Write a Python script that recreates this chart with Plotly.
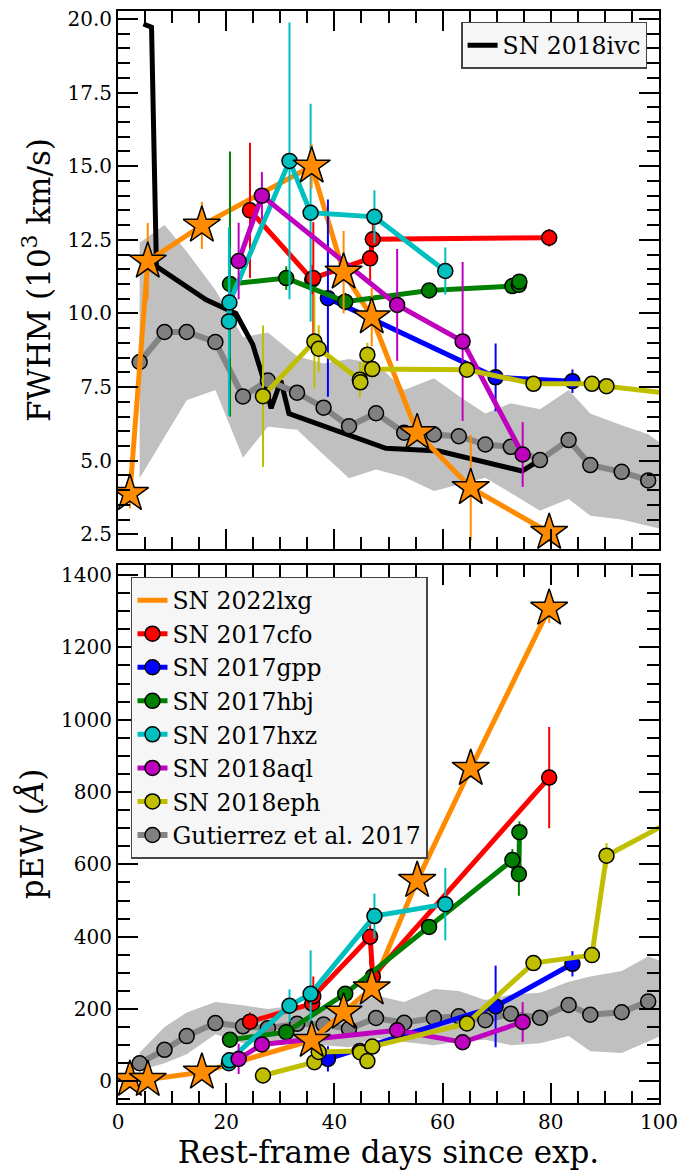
import plotly.graph_objects as go

# ---------------- data ----------------
lxg_t = [2.2, 5.5, 15.5, 35.8, 41.7, 46.9, 55.3, 65.2, 79.7]
lxg_fwhm = [3.88, 11.77, 12.99, 15.0, 11.4, 9.88, 5.95, 4.08, 2.56]
lxg_fwhm_err = [0.5, 1.3, 0.8, 0.75, 1.4, 1.0, 0.3, 1.8, 0.3]
lxg_pew = [5, 5, 25, 113, 191, 258, 555, 865, 1308]
lxg_pew_err = [5, 5, 8, 10, 10, 12, 15, 15, 40]

cfo_t = [24.4, 35.9, 36.1, 46.6, 47.1, 79.7]
cfo_fwhm = [13.5, 11.15, 11.2, 11.87, 12.52, 12.57]
cfo_fwhm_err = [2.3, 0.5, 1.9, 0.8, 0.6, 0.3]
cfo_pew = [165, 215, 235, 400, 290, 840]
cfo_pew_err = [25, 15, 55, 80, 20, 140]

gpp_t = [38.8, 69.8, 84.0]
gpp_fwhm = [10.52, 7.83, 7.70]
gpp_fwhm_err = [3.35, 1.15, 0.4]
gpp_pew = [62, 207, 325]
gpp_pew_err = [35, 113, 35]

hbj_t = [20.7, 31.1, 42.0, 57.5, 72.9, 74.1, 74.2]
hbj_fwhm = [11.0, 11.2, 10.4, 10.78, 10.93, 10.97, 11.08]
hbj_fwhm_err = [4.5, 0.4, 0.3, 0.2, 0.2, 0.2, 0.2]
hbj_pew = [115, 136, 242, 427, 612, 573, 689]
hbj_pew_err = [20, 10, 10, 10, 30, 60, 30]

hxz_t = [20.5, 20.6, 31.7, 35.6, 47.4, 60.5]
hxz_fwhm = [9.73, 10.37, 15.18, 13.42, 13.28, 11.44]
hxz_fwhm_err = [3.2, 1.9, 4.7, 3.7, 0.9, 0.8]
hxz_pew = [50, 58, 209, 242, 457, 490]
hxz_pew_err = [15, 15, 45, 120, 62, 100]

aql_t = [22.3, 26.6, 51.6, 63.7, 74.8]
aql_fwhm = [11.78, 14.0, 10.29, 9.05, 5.21]
aql_fwhm_err = [1.3, 0.8, 1.9, 2.7, 1.1]
aql_pew = [62, 102, 141, 108, 164]
aql_pew_err = [42, 10, 10, 10, 55]

eph_t = [26.8, 36.3, 37.1, 44.7, 44.8, 46.1, 47.0, 64.5, 76.8, 87.6, 90.3, 108.0]
eph_fwhm = [7.19, 9.05, 8.80, 7.75, 7.66, 8.6, 8.11, 8.09, 7.61, 7.61, 7.53, 7.15]
eph_fwhm_err = [2.4, 1.6, 0.8, 0.6, 0.3, 0.4, 0.3, 0.1, 0.1, 0.1, 0.1, 0.1]
eph_pew = [16, 53, 81, 84, 80, 56, 96, 160, 327, 349, 624, 765]
eph_pew_err = [5, 5, 5, 5, 5, 5, 5, 10, 10, 10, 35, 10]

gut_t = [4.0, 8.6, 12.7, 18.0, 23.1, 27.7, 33.1, 38.0, 42.7, 47.7,
         52.9, 58.4, 63.0, 67.9, 72.6, 78.0, 83.3, 87.3, 93.1, 98.0]
gut_fwhm = [8.35, 9.37, 9.37, 9.03, 7.18, 7.72, 7.31, 6.80, 6.17, 6.61,
            5.95, 5.89, 5.83, 5.55, 5.47, 5.02, 5.70, 4.85, 4.62, 4.33]
gut_pew = [50, 87, 125, 161, 152, 147, 159, 157, 145, 175,
           162, 175, 180, 169, 187, 176, 211, 184, 191, 221]

band_t = gut_t + [101.0]
band_fwhm_hi = [12.4, 13.0, 12.1, 10.8, 9.2, 9.35, 8.55, 8.3, 8.45, 8.3,
                7.4, 7.8, 7.2, 6.6, 6.95, 6.75, 7.4, 6.6, 6.2, 5.9, 5.5]
band_fwhm_lo = [4.4, 5.8, 7.05, 7.4, 5.1, 6.15, 6.05, 5.2, 4.4, 4.7,
                4.45, 3.97, 4.2, 4.42, 3.9, 3.3, 3.7, 3.13, 3.0, 2.8, 2.65]
band_pew_hi = [80, 150, 190, 219, 210, 200, 210, 200, 205, 237,
               219, 255, 250, 225, 240, 245, 275, 290, 305, 345, 330]
band_pew_lo = [30, 50, 75, 130, 105, 110, 110, 100, 94, 119,
               109, 100, 110, 115, 100, 105, 125, 83, 78, 110, 130]

ivc_t = [4.7, 6.2, 7.1, 16.3, 21.8, 24.9, 27.1, 28.3, 30.1, 31.6, 49.5, 59.3, 74.7, 77.8]
ivc_fwhm = [19.83, 19.72, 11.6, 10.46, 10.0, 8.95, 7.64, 6.78, 7.72, 6.6, 5.42, 5.33, 4.65, 5.0]

x_ticks = [0, 20, 40, 60, 80, 100]

# ---------------- figure ----------------
FONT = "DejaVu Serif"
fig = go.Figure()

def band(t, lo, hi, xa, ya):
    fig.add_trace(go.Scatter(x=t, y=lo, mode="lines", line=dict(width=0, color="#c0c0c0"),
                             showlegend=False, hoverinfo="skip", xaxis=xa, yaxis=ya))
    fig.add_trace(go.Scatter(x=t, y=hi, mode="lines", line=dict(width=0, color="#c0c0c0"),
                             fill="tonexty", fillcolor="#c0c0c0",
                             showlegend=False, hoverinfo="skip", xaxis=xa, yaxis=ya))

def series(t, y, err, color, name, xa, ya, show, rank):
    fig.add_trace(go.Scatter(
        x=t, y=y, mode="lines+markers", name=name,
        line=dict(color=color, width=5),
        marker=dict(symbol="circle", size=15, color=color, line=dict(color="black", width=1.5)),
        error_y=dict(type="data", array=err, color=color, thickness=2, width=0),
        showlegend=show, legendrank=rank, xaxis=xa, yaxis=ya))

sets = [
    ("x", "y", gut_fwhm, band_fwhm_lo, band_fwhm_hi, lxg_fwhm, lxg_fwhm_err,
     [(cfo_t, cfo_fwhm, cfo_fwhm_err), (gpp_t, gpp_fwhm, gpp_fwhm_err),
      (hbj_t, hbj_fwhm, hbj_fwhm_err), (hxz_t, hxz_fwhm, hxz_fwhm_err),
      (aql_t, aql_fwhm, aql_fwhm_err), (eph_t, eph_fwhm, eph_fwhm_err)], False),
    ("x2", "y2", gut_pew, band_pew_lo, band_pew_hi, lxg_pew, lxg_pew_err,
     [(cfo_t, cfo_pew, cfo_pew_err), (gpp_t, gpp_pew, gpp_pew_err),
      (hbj_t, hbj_pew, hbj_pew_err), (hxz_t, hxz_pew, hxz_pew_err),
      (aql_t, aql_pew, aql_pew_err), (eph_t, eph_pew, eph_pew_err)], True),
]
colors = ["#ff0000", "#0000ff", "#008000", "#00bfbf", "#bf00bf", "#bfbf00"]
names = ["SN 2017cfo", "SN 2017gpp", "SN 2017hbj", "SN 2017hxz", "SN 2018aql", "SN 2018eph"]

for xa, ya, gy, blo, bhi, ly, lerr, others, show in sets:
    band(band_t, blo, bhi, xa, ya)
    if ya == "y":
        fig.add_trace(go.Scatter(x=ivc_t, y=ivc_fwhm, mode="lines", name="SN 2018ivc",
                                 line=dict(color="black", width=5), legend="legend2",
                                 showlegend=True, xaxis=xa, yaxis=ya))
    fig.add_trace(go.Scatter(
        x=gut_t, y=gy, mode="lines+markers", name="Gutierrez et al. 2017",
        line=dict(color="#858585", width=6),
        marker=dict(symbol="circle", size=15, color="#808080", line=dict(color="black", width=1.5)),
        showlegend=show, legendrank=900, xaxis=xa, yaxis=ya))
    fig.add_trace(go.Scatter(x=lxg_t, y=ly, mode="lines", name="SN 2022lxg",
                             line=dict(color="#ff8c00", width=5),
                             showlegend=show, legendrank=100, xaxis=xa, yaxis=ya))
    for i, (t, y, e) in enumerate(others):
        series(t, y, e, colors[i], names[i], xa, ya, show, 200 + i * 100)
    fig.add_trace(go.Scatter(
        x=lxg_t, y=ly, mode="markers", name="SN 2022lxg",
        marker=dict(symbol="star", size=28, color="#ff8c00", line=dict(color="black", width=1.5)),
        error_y=dict(type="data", array=lerr, color="#ff8c00", thickness=2, width=0),
        showlegend=False, xaxis=xa, yaxis=ya))

axis_common = dict(showline=True, linewidth=2, linecolor="black", mirror="ticks",
                   ticks="inside", ticklen=20, tickwidth=2, tickcolor="black",
                   showgrid=False, zeroline=False,
                   tickfont=dict(family=FONT, size=20, color="black"))
minor_style = dict(ticklen=12, tickwidth=1.5, ticks="inside", tickcolor="black")

fig.update_layout(
    width=697, height=1171,
    margin=dict(l=118, r=38, t=7, b=68),
    plot_bgcolor="white", paper_bgcolor="white",
    font=dict(family=FONT, color="black"),
    xaxis=dict(domain=[0, 1], range=[0, 100], tickvals=x_ticks, showticklabels=False,
               anchor="y", matches="x2", minor=dict(dtick=5, **minor_style), **axis_common),
    xaxis2=dict(domain=[0, 1], range=[0, 100], tickvals=x_ticks, anchor="y2",
                minor=dict(dtick=5, **minor_style),
                title=dict(text="Rest-frame days since exp.", font=dict(family=FONT, size=31), standoff=2),
                **axis_common),
    yaxis=dict(domain=[0.5073, 1], range=[2.0, 20.27], dtick=2.5, tick0=0, tickformat=".1f",
               anchor="x", minor=dict(dtick=0.5, **minor_style),
               title=dict(text="FWHM (10<sup>3</sup> km/s)", font=dict(family=FONT, size=31), standoff=8),
               **axis_common),
    yaxis2=dict(domain=[0, 0.4927], range=[-60, 1428], dtick=200, tick0=0,
                anchor="x2", minor=dict(dtick=50, **minor_style),
                title=dict(text="pEW (<i>Å</i>)", font=dict(family=FONT, size=31), standoff=8),
                **axis_common),
    legend=dict(x=0.024, y=0.4818, xanchor="left", yanchor="top",
                font=dict(family=FONT, size=23.5, color="black"),
                bgcolor="#f6f6f6", bordercolor="#444444", borderwidth=1.5,
                itemwidth=30, traceorder="normal"),
    legend2=dict(x=0.978, y=0.99, xanchor="right", yanchor="top",
                 font=dict(family=FONT, size=23.5, color="black"),
                 bgcolor="#f6f6f6", bordercolor="#444444", borderwidth=1.5,
                 itemwidth=30),
)

fig.write_html("out.html")
